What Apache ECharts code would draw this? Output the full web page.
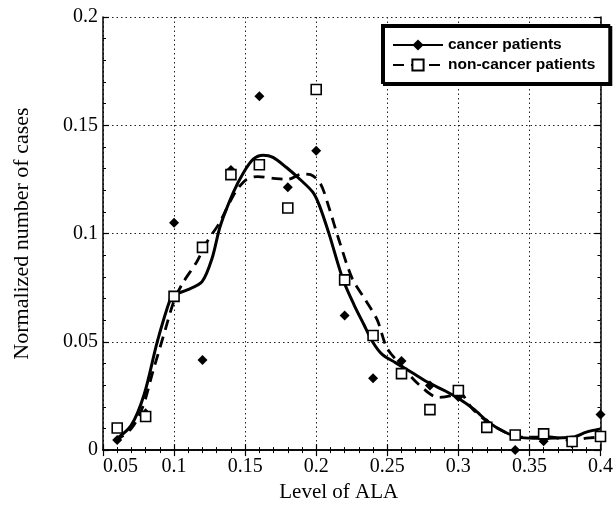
<!DOCTYPE html>
<html>
<head>
<meta charset="utf-8">
<script src="https://cdn.jsdelivr.net/npm/echarts@6/dist/echarts.min.js"></script>
<style>
  html, body { margin: 0; padding: 0; background: #fff; }
  #chart { width: 616px; height: 508px; }
</style>
</head>
<body>
<div id="chart"></div>
<script>
// measured ALA levels
const levels = [0.06, 0.08, 0.10, 0.12, 0.14, 0.16, 0.18, 0.20, 0.22, 0.24, 0.26, 0.28, 0.30, 0.32, 0.34, 0.36, 0.38, 0.40]
const cancerCases = [0.0047, 0.017, 0.105, 0.0416, 0.1294, 0.1634, 0.1214, 0.1382, 0.0621, 0.0332, 0.0411, 0.0298, 0.0245, 0.0124, 0.0, 0.0041, 0.003, 0.0164]
const nonCancerCases = [0.0102, 0.0155, 0.071, 0.0936, 0.1272, 0.1318, 0.1118, 0.1665, 0.0786, 0.0529, 0.0353, 0.0187, 0.0275, 0.0105, 0.007, 0.0075, 0.004, 0.0063]

// fitted curves
const cancerFit = [
  [0.058, 0.0045], [0.0697, 0.0113], [0.079, 0.0258], [0.0883, 0.0503], [0.0976, 0.0702],
  [0.1, 0.0717], [0.1093, 0.074], [0.1197, 0.0778], [0.1267, 0.0885], [0.1325, 0.1035],
  [0.1417, 0.119], [0.1487, 0.128], [0.1557, 0.1344], [0.1627, 0.1362], [0.1696, 0.1352],
  [0.1789, 0.1306], [0.1883, 0.1252], [0.1976, 0.1191], [0.2022, 0.113], [0.2092, 0.0995],
  [0.2185, 0.0794], [0.2266, 0.0671], [0.2336, 0.0579], [0.2394, 0.0503], [0.2464, 0.0442],
  [0.2557, 0.0404], [0.2673, 0.0358], [0.2789, 0.0312], [0.2905, 0.0274], [0.301, 0.0235],
  [0.3109, 0.0189], [0.3214, 0.0128], [0.3319, 0.0086], [0.3423, 0.006], [0.3528, 0.0055],
  [0.3621, 0.0055], [0.3807, 0.006], [0.39, 0.0083], [0.4, 0.0098]
]
const nonCancerFit = [
  [0.058, 0.004], [0.07, 0.010], [0.078, 0.02], [0.085, 0.036], [0.094, 0.056],
  [0.1, 0.069], [0.106, 0.077], [0.116, 0.087], [0.123, 0.096], [0.132, 0.105],
  [0.143, 0.119], [0.151, 0.125], [0.159, 0.1263], [0.17, 0.1255], [0.18, 0.125],
  [0.19, 0.1275], [0.196, 0.1272], [0.203, 0.123], [0.209, 0.112], [0.216, 0.097],
  [0.2255, 0.079], [0.235, 0.069], [0.243, 0.060], [0.2499, 0.047], [0.26, 0.039],
  [0.272, 0.0304], [0.286, 0.0243], [0.294, 0.025], [0.3, 0.0268], [0.31, 0.019],
  [0.321, 0.0128], [0.332, 0.0086], [0.342, 0.006], [0.355, 0.006], [0.362, 0.0062],
  [0.38, 0.0045], [0.39, 0.0055], [0.4, 0.006]
]

const SERIF = '"Liberation Serif", "Times New Roman", serif'
const SANS = '"Liberation Sans", Arial, sans-serif'

const tickFmt = v => String(+v.toFixed(2))

const baseAxis = {
  axisLine: { show: true, lineStyle: { color: '#000', width: 1.5 } },
  axisTick: { show: true, inside: true, length: 6, lineStyle: { color: '#000', width: 1.2 } },
  minorTick: { show: true, splitNumber: 5, length: 3, lineStyle: { color: '#000', width: 1 } },
  splitLine: { show: false }
}

const chart = echarts.init(document.getElementById('chart'), null, { renderer: 'canvas' })

chart.setOption({
  backgroundColor: '#fff',
  animation: false,
  grid: { left: 103, right: 6, top: 17, bottom: 55 },
  legend: {
    data: ['cancer patients', 'non-cancer patients'],
    orient: 'vertical',
    left: 382,
    top: 25,
    padding: [12, 14, 10, 10],
    itemGap: 4,
    itemWidth: 50,
    itemHeight: 14,
    backgroundColor: '#fff',
    borderColor: '#000',
    borderWidth: 2,
    shadowColor: '#000',
    shadowOffsetX: 2,
    shadowOffsetY: 2,
    textStyle: { fontFamily: SANS, fontWeight: 'bold', fontSize: 15.5, color: '#000' }
  },
  xAxis: [
    Object.assign({}, baseAxis, {
      type: 'value', min: 0.05, max: 0.4, interval: 0.05,
      name: 'Level of ALA', nameLocation: 'middle', nameGap: 29,
      nameTextStyle: { fontFamily: SERIF, fontSize: 21, color: '#000', padding: [0, 26, 0, 0] },
      axisLabel: { margin: 7, fontFamily: SERIF, fontSize: 20, color: '#000', formatter: tickFmt, alignMinLabel: 'left' },
      splitLine: { show: true, lineStyle: { color: '#222', width: 1, type: [1.5, 3] } }
    }),
    Object.assign({}, baseAxis, {
      type: 'value', min: 0.05, max: 0.4, interval: 0.05, position: 'top',
      axisLabel: { show: false }
    })
  ],
  yAxis: [
    Object.assign({}, baseAxis, {
      type: 'value', min: 0, max: 0.2, interval: 0.05,
      name: 'Normalized number of cases', nameLocation: 'middle', nameGap: 70,
      nameTextStyle: { fontFamily: SERIF, fontSize: 22, color: '#000' },
      axisLabel: { margin: 5, fontFamily: SERIF, fontSize: 20, color: '#000', formatter: tickFmt },
      splitLine: { show: true, lineStyle: { color: '#222', width: 1, type: [1.5, 3] } }
    }),
    Object.assign({}, baseAxis, {
      type: 'value', min: 0, max: 0.2, interval: 0.05, position: 'right',
      axisLabel: { show: false }
    })
  ],
  series: [
    {
      name: 'cancer patients',
      type: 'line',
      data: cancerFit,
      smooth: 0.3,
      symbol: 'diamond',
      symbolSize: 9,
      showSymbol: false,
      lineStyle: { color: '#000', width: 3 },
      itemStyle: { color: '#000' },
      z: 3
    },
    {
      name: 'non-cancer patients',
      type: 'line',
      data: nonCancerFit,
      smooth: 0.3,
      symbol: 'emptyRect',
      symbolSize: 10,
      showSymbol: false,
      lineStyle: { color: '#000', width: 2.8, type: [11, 7] },
      itemStyle: { color: '#000' },
      z: 3
    },
    {
      name: 'cancer points',
      type: 'scatter',
      data: levels.map((x, i) => [x, cancerCases[i]]),
      symbol: 'diamond',
      symbolSize: 10,
      itemStyle: { color: '#000', opacity: 1 },
      z: 4
    },
    {
      name: 'non-cancer points',
      type: 'scatter',
      data: levels.map((x, i) => [x, nonCancerCases[i]]),
      symbol: 'rect',
      symbolSize: 10,
      itemStyle: { color: '#fff', borderColor: '#000', borderWidth: 1.6, opacity: 1 },
      z: 4
    }
  ]
})
</script>
</body>
</html>
